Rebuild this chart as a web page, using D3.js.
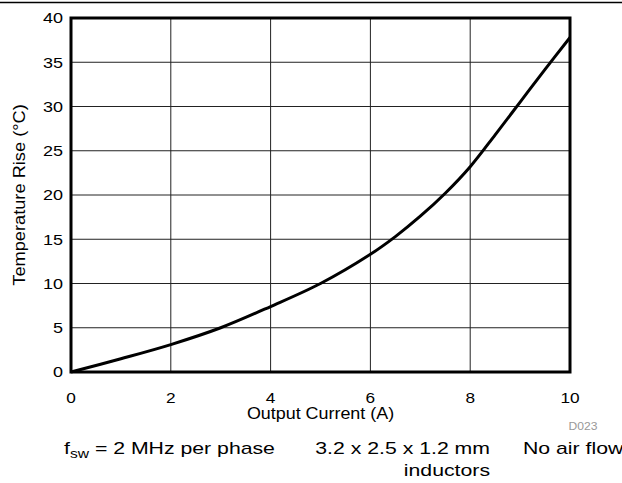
<!DOCTYPE html>
<html><head><meta charset="utf-8">
<script src="https://cdn.jsdelivr.net/npm/d3@7"></script>
<style>
html,body{margin:0;padding:0;background:#fff;}
text{font-family:"Liberation Sans",Arial,Helvetica,sans-serif;fill:#000;}
</style></head>
<body>
<svg id="chart" width="622" height="483"></svg>
<script>
const current = [0, 1, 2, 3, 4, 5, 6, 6.5, 7, 7.5, 8, 8.5, 9, 9.5, 10];
const tempRise = [0, 1.5, 3.1, 5.0, 7.4, 10.0, 13.3, 15.3, 17.6, 20.2, 23.2, 26.8, 30.5, 34.2, 37.8];
const xTicks = [0, 2, 4, 6, 8, 10];
const yTicks = [0, 5, 10, 15, 20, 25, 30, 35, 40];
const xTitle = "Output Current (A)";
const yTitle = "Temperature Rise (\u00B0C)";
const noteId = "D023";

const svg = d3.select("#chart");
const L = 71, R = 570, T = 18, B = 372;
const x = d3.scaleLinear().domain([0, 10]).range([L, R]);
const y = d3.scaleLinear().domain([0, 40]).range([B, T]);

// top rule
svg.append("line").attr("x1", 0).attr("x2", 622).attr("y1", 2.5).attr("y2", 2.5)
  .attr("stroke", "#000").attr("stroke-width", 1.5);

// grid
svg.append("g").selectAll("line").data(xTicks.slice(1, -1)).join("line")
  .attr("x1", d => x(d)).attr("x2", d => x(d)).attr("y1", T).attr("y2", B)
  .attr("stroke", "#222").attr("stroke-width", 1);
svg.append("g").selectAll("line").data(yTicks.slice(1, -1)).join("line")
  .attr("x1", L).attr("x2", R).attr("y1", d => y(d)).attr("y2", d => y(d))
  .attr("stroke", "#222").attr("stroke-width", 1);

// curve
const pts = current.map((c, i) => [c, tempRise[i]]);
svg.append("path").datum(pts)
  .attr("d", d3.line().x(d => x(d[0])).y(d => y(d[1])).curve(d3.curveCatmullRom.alpha(0.5)))
  .attr("fill", "none").attr("stroke", "#000").attr("stroke-width", 3);

// frame
svg.append("rect").attr("x", L).attr("y", T).attr("width", R - L).attr("height", B - T)
  .attr("fill", "none").attr("stroke", "#000").attr("stroke-width", 3);

// helper for horizontally stretched text
function stext(gx, gy, str, size, sx, anchor, rot) {
  const g = svg.append("g").attr("transform", `translate(${gx},${gy})` + (rot ? ` rotate(${rot})` : ""));
  return g.append("text").attr("transform", `scale(${sx},1)`)
    .attr("font-size", size).attr("text-anchor", anchor).text(str);
}

// tick labels
xTicks.forEach(t => stext(x(t), 403, String(t), 15, 1.15, "middle"));
yTicks.forEach(t => stext(63, y(t) + 5.3, String(t), 15, 1.2, "end"));

// axis titles
stext((L + R) / 2, 419, xTitle, 16, 1.12, "middle");
stext(25, (T + B) / 2, yTitle, 16, 1.14, "middle", -90);

// id
stext(583, 430, noteId, 11, 1.1, "middle").style("fill", "#999");

// bottom notes
const f = stext(64, 454, "", 17, 1.25, "start");
f.append("tspan").text("f");
f.append("tspan").attr("font-size", 12.5).attr("dy", 3.5).text("sw");
f.append("tspan").attr("dy", -3.5).text(" = 2 MHz per phase");
stext(490, 454, "3.2 x 2.5 x 1.2 mm", 17, 1.25, "end");
stext(490, 476, "inductors", 17, 1.25, "end");
stext(523, 454, "No air flow", 17, 1.25, "start");
</script>
</body></html>
